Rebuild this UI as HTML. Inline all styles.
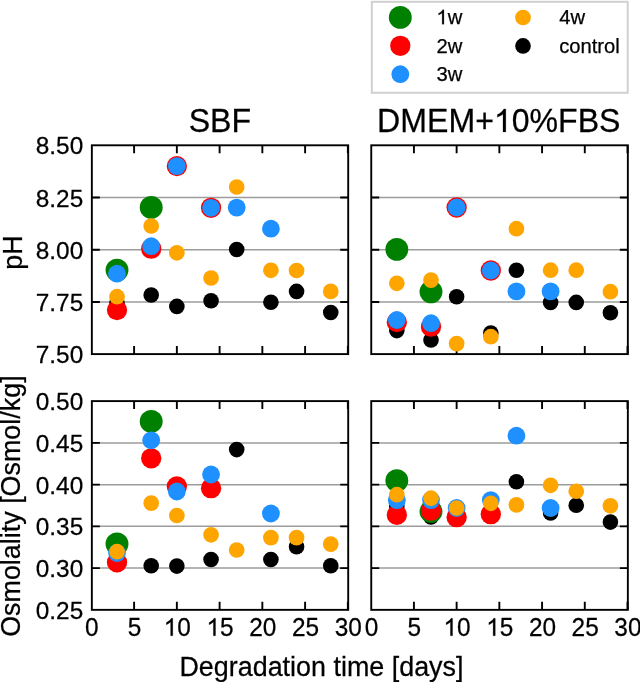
<!DOCTYPE html><html><head><meta charset="utf-8"><style>html,body{margin:0;padding:0;background:#fff;}svg{display:block;will-change:transform;}text{font-family:"Liberation Sans",sans-serif;fill:#000;stroke:#000;stroke-width:0.25px;}</style></head><body>
<svg width="640" height="682" viewBox="0 0 640 682">
<line x1="91.35" y1="302.02" x2="347.85" y2="302.02" stroke="#9c9c9c" stroke-width="1.5"/>
<line x1="91.35" y1="249.75" x2="347.85" y2="249.75" stroke="#9c9c9c" stroke-width="1.5"/>
<line x1="91.35" y1="197.47" x2="347.85" y2="197.47" stroke="#9c9c9c" stroke-width="1.5"/>
<path d="M91.85,302.02h8M348.20,302.02h-8M91.85,249.75h8M348.20,249.75h-8M91.85,197.47h8M348.20,197.47h-8M134.10,145.30v8M134.10,354.10v-8M176.85,145.30v8M176.85,354.10v-8M219.60,145.30v8M219.60,354.10v-8M262.35,145.30v8M262.35,354.10v-8M305.10,145.30v8M305.10,354.10v-8M347.85,145.30v8M347.85,354.10v-8" stroke="#000" stroke-width="1.9" fill="none"/>
<rect x="91.85" y="145.30" width="256.35" height="208.80" stroke="#000" stroke-width="1.9" fill="none"/>
<circle cx="117.00" cy="303.00" r="7.8" fill="#000000"/>
<circle cx="151.20" cy="295.06" r="7.8" fill="#000000"/>
<circle cx="176.85" cy="306.40" r="7.8" fill="#000000"/>
<circle cx="211.05" cy="300.70" r="7.8" fill="#000000"/>
<circle cx="236.70" cy="249.50" r="7.8" fill="#000000"/>
<circle cx="270.90" cy="302.20" r="7.8" fill="#000000"/>
<circle cx="296.55" cy="291.40" r="7.8" fill="#000000"/>
<circle cx="330.75" cy="312.50" r="7.8" fill="#000000"/>
<circle cx="117.00" cy="270.10" r="11.45" fill="#008000"/>
<circle cx="151.20" cy="207.40" r="11.45" fill="#008000"/>
<circle cx="117.00" cy="310.10" r="10.15" fill="#ff0000"/>
<circle cx="151.20" cy="248.70" r="10.15" fill="#ff0000"/>
<circle cx="176.85" cy="166.10" r="10.15" fill="#ff0000"/>
<circle cx="211.05" cy="207.80" r="10.15" fill="#ff0000"/>
<circle cx="117.00" cy="273.70" r="8.9" fill="#1e90ff"/>
<circle cx="151.20" cy="246.20" r="8.9" fill="#1e90ff"/>
<circle cx="176.85" cy="166.10" r="8.9" fill="#1e90ff"/>
<circle cx="211.05" cy="207.80" r="8.9" fill="#1e90ff"/>
<circle cx="236.70" cy="207.60" r="8.9" fill="#1e90ff"/>
<circle cx="270.90" cy="228.70" r="8.9" fill="#1e90ff"/>
<circle cx="117.00" cy="296.70" r="7.85" fill="#ffa500"/>
<circle cx="151.20" cy="226.00" r="7.85" fill="#ffa500"/>
<circle cx="176.85" cy="252.80" r="7.85" fill="#ffa500"/>
<circle cx="211.05" cy="278.00" r="7.85" fill="#ffa500"/>
<circle cx="236.70" cy="187.00" r="7.85" fill="#ffa500"/>
<circle cx="270.90" cy="270.30" r="7.85" fill="#ffa500"/>
<circle cx="296.55" cy="270.50" r="7.85" fill="#ffa500"/>
<circle cx="330.75" cy="291.40" r="7.85" fill="#ffa500"/>
<text transform="translate(83.20,363.39) scale(1.0,1.017)" font-size="24.4" text-anchor="end">7.50</text>
<text transform="translate(83.20,311.11) scale(1.0,1.017)" font-size="24.4" text-anchor="end">7.75</text>
<text transform="translate(83.20,258.84) scale(1.0,1.017)" font-size="24.4" text-anchor="end">8.00</text>
<text transform="translate(83.20,206.56) scale(1.0,1.017)" font-size="24.4" text-anchor="end">8.25</text>
<text transform="translate(83.20,154.29) scale(1.0,1.017)" font-size="24.4" text-anchor="end">8.50</text>
<line x1="371.20" y1="302.02" x2="627.50" y2="302.02" stroke="#9c9c9c" stroke-width="1.5"/>
<line x1="371.20" y1="249.75" x2="627.50" y2="249.75" stroke="#9c9c9c" stroke-width="1.5"/>
<line x1="371.20" y1="197.47" x2="627.50" y2="197.47" stroke="#9c9c9c" stroke-width="1.5"/>
<path d="M371.25,302.02h8M627.85,302.02h-8M371.25,249.75h8M627.85,249.75h-8M371.25,197.47h8M627.85,197.47h-8M413.92,145.30v8M413.92,354.10v-8M456.63,145.30v8M456.63,354.10v-8M499.35,145.30v8M499.35,354.10v-8M542.07,145.30v8M542.07,354.10v-8M584.78,145.30v8M584.78,354.10v-8M627.50,145.30v8M627.50,354.10v-8" stroke="#000" stroke-width="1.9" fill="none"/>
<rect x="371.25" y="145.30" width="256.60" height="208.80" stroke="#000" stroke-width="1.9" fill="none"/>
<circle cx="396.83" cy="330.60" r="7.8" fill="#000000"/>
<circle cx="431.00" cy="340.00" r="7.8" fill="#000000"/>
<circle cx="456.63" cy="296.80" r="7.8" fill="#000000"/>
<circle cx="490.81" cy="333.00" r="7.8" fill="#000000"/>
<circle cx="516.44" cy="270.20" r="7.8" fill="#000000"/>
<circle cx="550.61" cy="302.40" r="7.8" fill="#000000"/>
<circle cx="576.24" cy="302.40" r="7.8" fill="#000000"/>
<circle cx="610.41" cy="312.80" r="7.8" fill="#000000"/>
<circle cx="396.83" cy="249.40" r="11.45" fill="#008000"/>
<circle cx="431.00" cy="291.80" r="11.45" fill="#008000"/>
<circle cx="396.83" cy="322.15" r="10.15" fill="#ff0000"/>
<circle cx="431.00" cy="326.70" r="10.15" fill="#ff0000"/>
<circle cx="456.63" cy="207.50" r="10.15" fill="#ff0000"/>
<circle cx="490.81" cy="270.50" r="10.15" fill="#ff0000"/>
<circle cx="396.83" cy="320.00" r="8.9" fill="#1e90ff"/>
<circle cx="431.00" cy="323.20" r="8.9" fill="#1e90ff"/>
<circle cx="456.63" cy="207.50" r="8.9" fill="#1e90ff"/>
<circle cx="490.81" cy="270.50" r="8.9" fill="#1e90ff"/>
<circle cx="516.44" cy="291.40" r="8.9" fill="#1e90ff"/>
<circle cx="550.61" cy="291.40" r="8.9" fill="#1e90ff"/>
<circle cx="396.83" cy="283.30" r="7.85" fill="#ffa500"/>
<circle cx="431.00" cy="280.10" r="7.85" fill="#ffa500"/>
<circle cx="456.63" cy="343.60" r="7.85" fill="#ffa500"/>
<circle cx="490.81" cy="336.70" r="7.85" fill="#ffa500"/>
<circle cx="516.44" cy="228.70" r="7.85" fill="#ffa500"/>
<circle cx="550.61" cy="270.20" r="7.85" fill="#ffa500"/>
<circle cx="576.24" cy="270.20" r="7.85" fill="#ffa500"/>
<circle cx="610.41" cy="291.70" r="7.85" fill="#ffa500"/>
<line x1="91.35" y1="568.08" x2="347.85" y2="568.08" stroke="#9c9c9c" stroke-width="1.5"/>
<line x1="91.35" y1="526.36" x2="347.85" y2="526.36" stroke="#9c9c9c" stroke-width="1.5"/>
<line x1="91.35" y1="484.64" x2="347.85" y2="484.64" stroke="#9c9c9c" stroke-width="1.5"/>
<line x1="91.35" y1="442.92" x2="347.85" y2="442.92" stroke="#9c9c9c" stroke-width="1.5"/>
<path d="M91.85,568.08h8M348.20,568.08h-8M91.85,526.36h8M348.20,526.36h-8M91.85,484.64h8M348.20,484.64h-8M91.85,442.92h8M348.20,442.92h-8M134.10,401.10v8M134.10,609.85v-8M176.85,401.10v8M176.85,609.85v-8M219.60,401.10v8M219.60,609.85v-8M262.35,401.10v8M262.35,609.85v-8M305.10,401.10v8M305.10,609.85v-8M347.85,401.10v8M347.85,609.85v-8" stroke="#000" stroke-width="1.9" fill="none"/>
<rect x="91.85" y="401.10" width="256.35" height="208.75" stroke="#000" stroke-width="1.9" fill="none"/>
<circle cx="151.20" cy="565.80" r="7.8" fill="#000000"/>
<circle cx="176.85" cy="566.10" r="7.8" fill="#000000"/>
<circle cx="211.05" cy="559.50" r="7.8" fill="#000000"/>
<circle cx="236.70" cy="449.60" r="7.8" fill="#000000"/>
<circle cx="270.90" cy="559.50" r="7.8" fill="#000000"/>
<circle cx="296.55" cy="546.80" r="7.8" fill="#000000"/>
<circle cx="330.75" cy="565.80" r="7.8" fill="#000000"/>
<circle cx="117.00" cy="543.90" r="11.45" fill="#008000"/>
<circle cx="151.20" cy="421.40" r="11.45" fill="#008000"/>
<circle cx="117.00" cy="562.40" r="10.15" fill="#ff0000"/>
<circle cx="151.20" cy="458.30" r="10.15" fill="#ff0000"/>
<circle cx="176.85" cy="486.40" r="10.15" fill="#ff0000"/>
<circle cx="211.05" cy="488.20" r="10.15" fill="#ff0000"/>
<circle cx="117.00" cy="553.00" r="8.9" fill="#1e90ff"/>
<circle cx="151.20" cy="440.30" r="8.9" fill="#1e90ff"/>
<circle cx="176.85" cy="491.50" r="8.9" fill="#1e90ff"/>
<circle cx="211.05" cy="474.50" r="8.9" fill="#1e90ff"/>
<circle cx="270.90" cy="513.50" r="8.9" fill="#1e90ff"/>
<circle cx="117.00" cy="551.70" r="7.85" fill="#ffa500"/>
<circle cx="151.20" cy="503.10" r="7.85" fill="#ffa500"/>
<circle cx="176.85" cy="515.50" r="7.85" fill="#ffa500"/>
<circle cx="211.05" cy="534.80" r="7.85" fill="#ffa500"/>
<circle cx="236.70" cy="550.00" r="7.85" fill="#ffa500"/>
<circle cx="270.90" cy="537.60" r="7.85" fill="#ffa500"/>
<circle cx="296.55" cy="537.60" r="7.85" fill="#ffa500"/>
<circle cx="330.75" cy="544.10" r="7.85" fill="#ffa500"/>
<text transform="translate(83.20,618.89) scale(1.0,1.017)" font-size="24.4" text-anchor="end">0.25</text>
<text transform="translate(83.20,577.17) scale(1.0,1.017)" font-size="24.4" text-anchor="end">0.30</text>
<text transform="translate(83.20,535.45) scale(1.0,1.017)" font-size="24.4" text-anchor="end">0.35</text>
<text transform="translate(83.20,493.73) scale(1.0,1.017)" font-size="24.4" text-anchor="end">0.40</text>
<text transform="translate(83.20,452.01) scale(1.0,1.017)" font-size="24.4" text-anchor="end">0.45</text>
<text transform="translate(83.20,410.29) scale(1.0,1.017)" font-size="24.4" text-anchor="end">0.50</text>
<text transform="translate(91.75,635.75) scale(1.0,1.045)" font-size="24.4" text-anchor="middle">0</text>
<text transform="translate(134.50,635.75) scale(1.0,1.045)" font-size="24.4" text-anchor="middle">5</text>
<path transform="translate(163.68,635.75) scale(0.01191,-0.01191)" d="M763 0L583 0L583 1147Q520 1087 418 1027Q316 967 224 932L224 1106Q369 1174 478 1270Q587 1366 632 1466L763 1466Z" fill="#000" stroke="#000" stroke-width="0.25" vector-effect="non-scaling-stroke"/>
<text transform="translate(177.25,635.75) scale(1.0,1.045)" font-size="24.4" text-anchor="middle"> 0</text>
<path transform="translate(206.43,635.75) scale(0.01191,-0.01191)" d="M763 0L583 0L583 1147Q520 1087 418 1027Q316 967 224 932L224 1106Q369 1174 478 1270Q587 1366 632 1466L763 1466Z" fill="#000" stroke="#000" stroke-width="0.25" vector-effect="non-scaling-stroke"/>
<text transform="translate(220.00,635.75) scale(1.0,1.045)" font-size="24.4" text-anchor="middle"> 5</text>
<text transform="translate(262.75,635.75) scale(1.0,1.045)" font-size="24.4" text-anchor="middle">20</text>
<text transform="translate(305.50,635.75) scale(1.0,1.045)" font-size="24.4" text-anchor="middle">25</text>
<text transform="translate(348.25,635.75) scale(1.0,1.045)" font-size="24.4" text-anchor="middle">30</text>
<line x1="371.20" y1="568.08" x2="627.50" y2="568.08" stroke="#9c9c9c" stroke-width="1.5"/>
<line x1="371.20" y1="526.36" x2="627.50" y2="526.36" stroke="#9c9c9c" stroke-width="1.5"/>
<line x1="371.20" y1="484.64" x2="627.50" y2="484.64" stroke="#9c9c9c" stroke-width="1.5"/>
<line x1="371.20" y1="442.92" x2="627.50" y2="442.92" stroke="#9c9c9c" stroke-width="1.5"/>
<path d="M371.25,568.08h8M627.85,568.08h-8M371.25,526.36h8M627.85,526.36h-8M371.25,484.64h8M627.85,484.64h-8M371.25,442.92h8M627.85,442.92h-8M413.92,401.10v8M413.92,609.85v-8M456.63,401.10v8M456.63,609.85v-8M499.35,401.10v8M499.35,609.85v-8M542.07,401.10v8M542.07,609.85v-8M584.78,401.10v8M584.78,609.85v-8M627.50,401.10v8M627.50,609.85v-8" stroke="#000" stroke-width="1.9" fill="none"/>
<rect x="371.25" y="401.10" width="256.60" height="208.75" stroke="#000" stroke-width="1.9" fill="none"/>
<circle cx="396.83" cy="506.00" r="7.8" fill="#000000"/>
<circle cx="431.00" cy="516.90" r="7.8" fill="#000000"/>
<circle cx="516.44" cy="481.80" r="7.8" fill="#000000"/>
<circle cx="550.61" cy="512.90" r="7.8" fill="#000000"/>
<circle cx="576.24" cy="505.20" r="7.8" fill="#000000"/>
<circle cx="610.41" cy="522.10" r="7.8" fill="#000000"/>
<circle cx="396.83" cy="480.60" r="11.45" fill="#008000"/>
<circle cx="431.00" cy="511.40" r="11.45" fill="#008000"/>
<circle cx="396.83" cy="514.90" r="10.15" fill="#ff0000"/>
<circle cx="431.00" cy="510.70" r="10.15" fill="#ff0000"/>
<circle cx="456.63" cy="517.20" r="10.15" fill="#ff0000"/>
<circle cx="490.81" cy="514.20" r="10.15" fill="#ff0000"/>
<circle cx="396.83" cy="500.20" r="8.9" fill="#1e90ff"/>
<circle cx="431.00" cy="500.10" r="8.9" fill="#1e90ff"/>
<circle cx="456.63" cy="508.00" r="8.9" fill="#1e90ff"/>
<circle cx="490.81" cy="500.10" r="8.9" fill="#1e90ff"/>
<circle cx="516.44" cy="435.70" r="8.9" fill="#1e90ff"/>
<circle cx="550.61" cy="508.00" r="8.9" fill="#1e90ff"/>
<circle cx="396.83" cy="494.70" r="7.85" fill="#ffa500"/>
<circle cx="431.00" cy="498.20" r="7.85" fill="#ffa500"/>
<circle cx="456.63" cy="508.00" r="7.85" fill="#ffa500"/>
<circle cx="490.81" cy="503.30" r="7.85" fill="#ffa500"/>
<circle cx="516.44" cy="504.90" r="7.85" fill="#ffa500"/>
<circle cx="550.61" cy="485.30" r="7.85" fill="#ffa500"/>
<circle cx="576.24" cy="491.25" r="7.85" fill="#ffa500"/>
<circle cx="610.41" cy="505.80" r="7.85" fill="#ffa500"/>
<text transform="translate(371.60,635.75) scale(1.0,1.045)" font-size="24.4" text-anchor="middle">0</text>
<text transform="translate(414.32,635.75) scale(1.0,1.045)" font-size="24.4" text-anchor="middle">5</text>
<path transform="translate(443.46,635.75) scale(0.01191,-0.01191)" d="M763 0L583 0L583 1147Q520 1087 418 1027Q316 967 224 932L224 1106Q369 1174 478 1270Q587 1366 632 1466L763 1466Z" fill="#000" stroke="#000" stroke-width="0.25" vector-effect="non-scaling-stroke"/>
<text transform="translate(457.03,635.75) scale(1.0,1.045)" font-size="24.4" text-anchor="middle"> 0</text>
<path transform="translate(486.18,635.75) scale(0.01191,-0.01191)" d="M763 0L583 0L583 1147Q520 1087 418 1027Q316 967 224 932L224 1106Q369 1174 478 1270Q587 1366 632 1466L763 1466Z" fill="#000" stroke="#000" stroke-width="0.25" vector-effect="non-scaling-stroke"/>
<text transform="translate(499.75,635.75) scale(1.0,1.045)" font-size="24.4" text-anchor="middle"> 5</text>
<text transform="translate(542.47,635.75) scale(1.0,1.045)" font-size="24.4" text-anchor="middle">20</text>
<text transform="translate(585.18,635.75) scale(1.0,1.045)" font-size="24.4" text-anchor="middle">25</text>
<text transform="translate(627.90,635.75) scale(1.0,1.045)" font-size="24.4" text-anchor="middle">30</text>
<text transform="translate(219.85,131.90) scale(1.0,1.06)" font-size="32.1" text-anchor="middle">SBF</text>
<path transform="translate(493.87,131.90) scale(0.01567,-0.01567)" d="M763 0L583 0L583 1147Q520 1087 418 1027Q316 967 224 932L224 1106Q369 1174 478 1270Q587 1366 632 1466L763 1466Z" fill="#000" stroke="#000" stroke-width="0.25" vector-effect="non-scaling-stroke"/>
<text transform="translate(498.80,131.90) scale(1.0,1.06)" font-size="32.1" text-anchor="middle">DMEM+ 0%FBS</text>
<text transform="translate(21.60,252.57) rotate(-90)" font-size="26.9" text-anchor="middle">pH</text>
<text transform="translate(20.20,506.10) rotate(-90)" font-size="26.9" text-anchor="middle">Osmolality [Osmol/kg]</text>
<text transform="translate(321.45,676.00) scale(1.0,1.03)" font-size="26.9" text-anchor="middle">Degradation time [days]</text>
<rect x="371.8" y="1.8" width="255.9" height="90.95" fill="#fff" stroke="#d0d0d0" stroke-width="2"/>
<circle cx="400.3" cy="17.4" r="11.45" fill="#008000"/>
<path transform="translate(436.40,24.20) scale(0.00986,-0.00986)" d="M763 0L583 0L583 1147Q520 1087 418 1027Q316 967 224 932L224 1106Q369 1174 478 1270Q587 1366 632 1466L763 1466Z" fill="#000" stroke="#000" stroke-width="0.25" vector-effect="non-scaling-stroke"/>
<text transform="translate(436.40,24.20)" font-size="20.2" text-anchor="start"> w</text>
<circle cx="400.3" cy="45.8" r="10.15" fill="#ff0000"/>
<text transform="translate(436.40,52.60)" font-size="20.2" text-anchor="start">2w</text>
<circle cx="400.3" cy="74.2" r="8.9" fill="#1e90ff"/>
<text transform="translate(436.40,81.00)" font-size="20.2" text-anchor="start">3w</text>
<circle cx="523" cy="17.5" r="7.85" fill="#ffa500"/>
<text transform="translate(559.20,24.30)" font-size="20.2" text-anchor="start">4w</text>
<circle cx="523" cy="45.9" r="7.8" fill="#000000"/>
<text transform="translate(559.20,52.70)" font-size="20.2" text-anchor="start">control</text>
</svg></body></html>
